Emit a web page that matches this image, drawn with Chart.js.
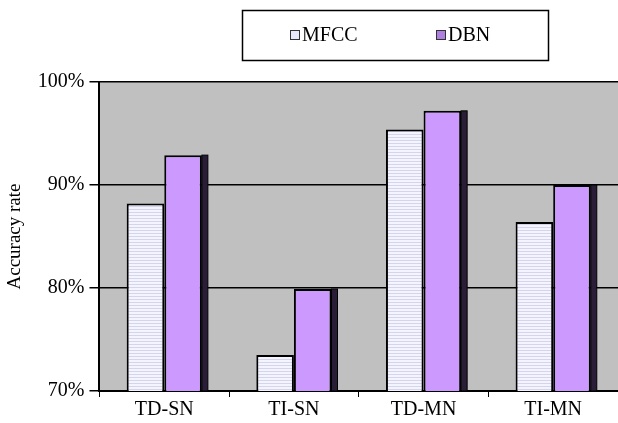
<!DOCTYPE html>
<html>
<head>
<meta charset="utf-8">
<script src="https://cdn.jsdelivr.net/npm/chart.js@4.4.1/dist/chart.umd.min.js"></script>
<style>
  html, body { margin: 0; padding: 0; background: #ffffff; }
  #wrap { width: 618px; height: 423px; }
</style>
</head>
<body>
<div id="wrap"><canvas id="chart" width="618" height="423"></canvas></div>
<script>
const categories = ['TD-SN', 'TI-SN', 'TD-MN', 'TI-MN'];
const mfccValues = [88.2, 73.5, 95.4, 86.4];
const dbnValues = [92.9, 79.9, 97.2, 90.0];
const yTicks = [70, 80, 90, 100];

const serif = 'Liberation Serif';

// striped light fill used by the MFCC bars
function makeStripes() {
    const c = document.createElement('canvas');
    c.width = 4;
    c.height = 3;
    const g = c.getContext('2d');
    g.fillStyle = '#f4f4ff';
    g.fillRect(0, 0, 4, 3);
    g.fillStyle = '#d4d4ec';
    g.fillRect(0, 2, 4, 1);
    return document.getElementById('chart').getContext('2d').createPattern(c, 'repeat');
}

// grey plot area behind everything
const plotBackground = {
    id: 'plotBackground',
    beforeDraw(chart) {
        const { ctx, chartArea: a } = chart;
        ctx.save();
        ctx.fillStyle = '#c0c0c0';
        ctx.fillRect(a.left, a.top, a.right - a.left, a.bottom - a.top);
        ctx.restore();
    }
};

// dark side strip on the DBN bars
const barShadow = {
    id: 'barShadow',
    afterDatasetsDraw(chart) {
        const ctx = chart.ctx;
        const bottom = chart.chartArea.bottom;
        const meta = chart.getDatasetMeta(1);
        ctx.save();
        ctx.fillStyle = '#2a1d38';
        meta.data.forEach(bar => {
            const right = bar.x + bar.width / 2;
            ctx.fillRect(right, bar.y, 6, bottom - bar.y);
            ctx.strokeStyle = '#000000';
            ctx.lineWidth = 1;
            ctx.strokeRect(right, bar.y, 6, bottom - bar.y);
        });
        ctx.restore();
    }
};

// boxed legend above the plot
const boxLegend = {
    id: 'boxLegend',
    afterDraw(chart) {
        const ctx = chart.ctx;
        ctx.save();
        ctx.strokeStyle = '#000000';
        ctx.lineWidth = 1.5;
        ctx.strokeRect(242.5, 10.5, 306, 50);
        const xs = [290, 436];
        ctx.font = '20px "' + serif + '"';
        ctx.textBaseline = 'middle';
        chart.data.datasets.forEach((ds, i) => {
            ctx.fillStyle = ds.legendColor;
            ctx.fillRect(xs[i], 30, 9, 9);
            ctx.strokeStyle = '#333333';
            ctx.lineWidth = 1;
            ctx.strokeRect(xs[i] + 0.5, 30.5, 9, 9);
            ctx.fillStyle = '#000000';
            ctx.fillText(ds.label, xs[i] + 12, 36);
        });
        ctx.restore();
    }
};

new Chart(document.getElementById('chart'), {
    type: 'bar',
    data: {
        labels: categories,
        datasets: [
            {
                label: 'MFCC',
                data: mfccValues,
                backgroundColor: makeStripes(),
                legendColor: '#e8e8fa',
                borderColor: '#000000',
                borderWidth: 2,
                borderSkipped: 'bottom'
            },
            {
                label: 'DBN',
                data: dbnValues,
                backgroundColor: '#cc99ff',
                legendColor: '#b080e0',
                borderColor: '#000000',
                borderWidth: 2,
                borderSkipped: 'bottom'
            }
        ]
    },
    options: {
        responsive: false,
        animation: false,
        categoryPercentage: 0.58,
        barPercentage: 1.0,
        layout: { padding: { top: 82, right: 0, left: 4, bottom: 0 } },
        plugins: {
            legend: { display: false },
            tooltip: { enabled: false }
        },
        scales: {
            x: {
                grid: {
                    display: true,
                    drawOnChartArea: false,
                    drawTicks: true,
                    tickLength: 6,
                    color: '#000000',
                    offset: true
                },
                border: { color: '#000000', width: 2 },
                ticks: {
                    color: '#000000',
                    font: { family: serif, size: 20 },
                    padding: 1
                }
            },
            y: {
                min: 70,
                max: 100,
                afterBuildTicks(axis) {
                    axis.ticks = yTicks.map(v => ({ value: v }));
                },
                grid: {
                    color: '#000000',
                    lineWidth: 1.5,
                    tickLength: 10
                },
                border: { color: '#000000', width: 2 },
                ticks: {
                    color: '#000000',
                    font: { family: serif, size: 20 },
                    padding: 5,
                    callback: v => v + '%'
                },
                title: {
                    display: true,
                    text: 'Accuracy rate',
                    color: '#000000',
                    font: { family: serif, size: 19 },
                    padding: { top: 0, bottom: 6 }
                }
            }
        }
    },
    plugins: [plotBackground, barShadow, boxLegend]
});
</script>
</body>
</html>
